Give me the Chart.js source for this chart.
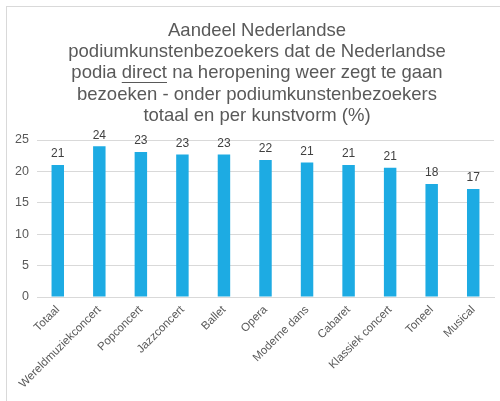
<!DOCTYPE html>
<html>
<head>
<meta charset="utf-8">
<script src="https://cdn.jsdelivr.net/npm/chart.js@4"></script>
<style>
  html, body { margin: 0; padding: 0; background: #fff; }
  #wrap { position: absolute; left: 0; top: 0; width: 500px; height: 401px; }
  #frame { position: absolute; left: 6px; top: 6px; width: 520px; height: 420px; border: 1px solid #d9d9d9; box-sizing: border-box; pointer-events: none; }
</style>
</head>
<body>
<div id="wrap"><canvas id="c" width="500" height="401"></canvas></div>
<div id="frame"></div>
<script>
const titleLines = [
  'Aandeel Nederlandse',
  'podiumkunstenbezoekers dat de Nederlandse',
  'podia direct na heropening weer zegt te gaan',
  'bezoeken - onder podiumkunstenbezoekers',
  'totaal en per kunstvorm (%)'
];
const underlinedWord = 'direct';
const categories = ['Totaal', 'Wereldmuziekconcert', 'Popconcert', 'Jazzconcert', 'Ballet', 'Opera', 'Moderne dans', 'Cabaret', 'Klassiek concert', 'Toneel', 'Musical'];
const values = [21.0, 24.0, 23.1, 22.7, 22.7, 21.8, 21.4, 21.0, 20.6, 18.0, 17.2];
const yTicks = [0, 5, 10, 15, 20, 25];

const FONT = "'Liberation Sans', Arial, sans-serif";
const TITLE_SIZE = 18.5;
const TITLE_LH = 21.3;

const titleShiftPlugin = {
  id: 'titleShift',
  afterLayout(chart) {
    if (chart.titleBlock) chart.titleBlock.left = 20;
  }
};

const dataLabelPlugin = {
  id: 'dataLabels',
  afterDatasetsDraw(chart) {
    const ctx = chart.ctx;
    const meta = chart.getDatasetMeta(0);
    ctx.save();
    ctx.font = '12px ' + FONT;
    ctx.fillStyle = '#404040';
    ctx.textAlign = 'center';
    ctx.textBaseline = 'bottom';
    meta.data.forEach((bar, i) => {
      ctx.fillText(String(Math.round(values[i])), bar.x, bar.y - 5);
    });
    ctx.restore();
  }
};

const underlinePlugin = {
  id: 'titleUnderline',
  afterDraw(chart) {
    const tb = chart.titleBlock;
    if (!tb) return;
    const ctx = chart.ctx;
    const lineIdx = titleLines.findIndex(l => l.includes(underlinedWord));
    if (lineIdx < 0) return;
    const line = titleLines[lineIdx];
    ctx.save();
    ctx.font = TITLE_SIZE + 'px ' + FONT;
    const full = ctx.measureText(line).width;
    const pre = ctx.measureText(line.slice(0, line.indexOf(underlinedWord))).width;
    const w = ctx.measureText(underlinedWord).width;
    const cx = (tb.left + tb.right) / 2;
    const x0 = cx - full / 2 + pre;
    const padTop = tb.options.padding.top;
    const cy = tb.top + padTop + TITLE_LH * lineIdx + TITLE_LH / 2;
    const uy = Math.round(cy + TITLE_SIZE * 0.45) + 0.5;
    ctx.strokeStyle = '#595959';
    ctx.lineWidth = 1;
    ctx.beginPath();
    ctx.moveTo(x0, uy);
    ctx.lineTo(x0 + w, uy);
    ctx.stroke();
    ctx.restore();
  }
};

new Chart(document.getElementById('c'), {
  type: 'bar',
  data: {
    labels: categories,
    datasets: [{
      data: values,
      backgroundColor: '#1DABE3',
      borderWidth: 0,
      barPercentage: 0.3,
      categoryPercentage: 1.0
    }]
  },
  options: {
    responsive: false,
    animation: false,
    devicePixelRatio: 1,
    layout: { padding: { left: 0, right: 6, top: 0, bottom: 0 } },
    plugins: {
      legend: { display: false },
      tooltip: { enabled: false },
      title: {
        display: true,
        text: titleLines,
        color: '#595959',
        font: { family: FONT, size: TITLE_SIZE, weight: 'normal', lineHeight: TITLE_LH / TITLE_SIZE },
        padding: { top: 20, bottom: 13.5 }
      }
    },
    scales: {
      x: {
        grid: { display: false, drawTicks: false },
        border: { display: true, color: '#d9d9d9', width: 1 },
        ticks: {
          color: '#595959',
          font: { family: FONT, size: 11.5 },
          minRotation: 45,
          maxRotation: 45,
          autoSkip: false,
          padding: 6
        },
        afterFit(scale) { scale.height = 104; }
      },
      y: {
        min: 0,
        max: 25,
        afterBuildTicks(scale) { scale.ticks = yTicks.map(v => ({ value: v })); },
        grid: { color: '#d9d9d9', drawTicks: false },
        border: { display: false },
        ticks: {
          color: '#595959',
          font: { family: FONT, size: 12.5 },
          padding: 8
        },
        afterFit(scale) { scale.width = 37; }
      }
    }
  },
  plugins: [titleShiftPlugin, dataLabelPlugin, underlinePlugin]
});
</script>
</body>
</html>
